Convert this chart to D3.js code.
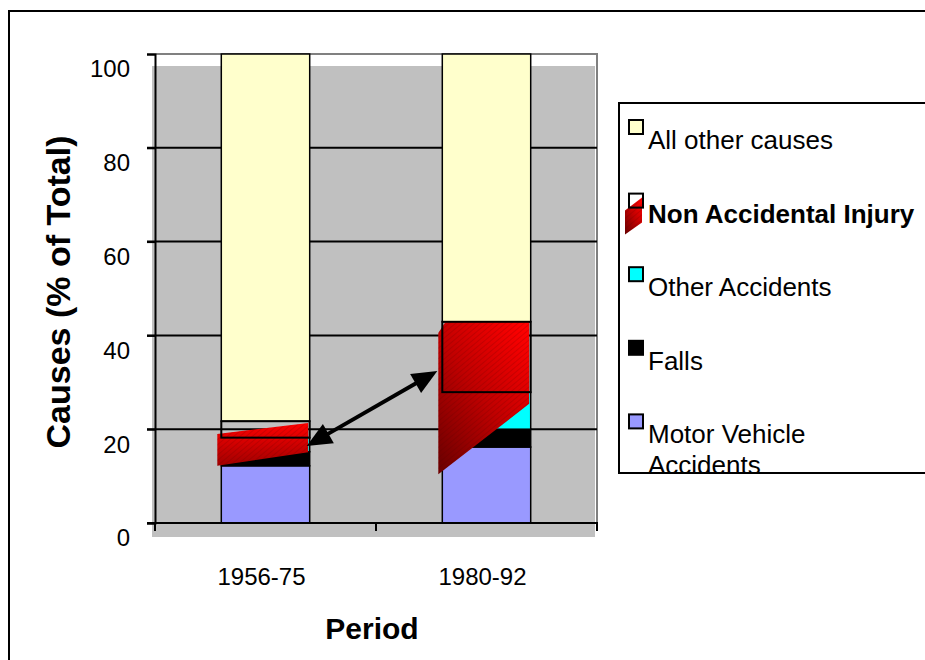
<!DOCTYPE html>
<html>
<head>
<meta charset="utf-8">
<script src="https://cdn.jsdelivr.net/npm/d3@7"></script>
<style>
  body { margin: 0; background: #fff; }
  text { font-family: Arial, "Liberation Sans", sans-serif; }
</style>
</head>
<body>
<script>
// values (% of total)
const categories = ['1956-75', '1980-92'];
const motorVehicle = [12.2, 16.2];
const falls = [3.0, 3.8];
const otherAccidents = [3.0, 7.9];
const nonAccidental = [3.5, 15.0];
const allOther = [78.3, 57.1];
const yTicks = [0, 20, 40, 60, 80, 100];

// skewed picture fill of the NAI segment, [bottom, top] values on left and right edges
const naiSkewLeft = [[12.2, 19.0], [10.4, 40.5]];
const naiSkewRight = [[15.1, 21.3], [25.4, 42.9]];
// where the top edge stops rising: [fraction of bar width, value]
const naiTopBreak = [[1, 21.3], [0.08, 42.9]];
// arrow between the two periods: [category index, value]
const arrowFrom = [0, 16.4];
const arrowTo = [1, 32.4];

const legendItems = [
  { name: 'All other causes', color: '#ffffcc' },
  { name: 'Non Accidental Injury', color: 'nai', bold: true },
  { name: 'Other Accidents', color: '#00ffff' },
  { name: 'Falls', color: '#000000' },
  { name: 'Motor Vehicle', name2: 'Accidents', color: '#9999ff' }
];

const keys = ['mv', 'falls', 'other', 'nai', 'rest'];
const colors = { mv: '#9999ff', falls: '#000000', other: '#00ffff', nai: 'none', rest: '#ffffcc' };
const rows = categories.map((c, i) => ({
  cat: c, mv: motorVehicle[i], falls: falls[i], other: otherAccidents[i],
  nai: nonAccidental[i], rest: allOther[i]
}));

const width = 925, height = 660;
const svg = d3.select('body').append('svg')
  .attr('width', width)
  .attr('height', height);

const defs = svg.append('defs');
const g1 = defs.append('linearGradient').attr('id', 'red0')
  .attr('x1', 0).attr('y1', 0).attr('x2', 0).attr('y2', 1);
g1.append('stop').attr('offset', 0).attr('stop-color', '#ff0000');
g1.append('stop').attr('offset', 1).attr('stop-color', '#a00000');
const g2 = defs.append('linearGradient').attr('id', 'red1')
  .attr('x1', 0.9).attr('y1', 0).attr('x2', 0.1).attr('y2', 1);
g2.append('stop').attr('offset', 0).attr('stop-color', '#ff0000');
g2.append('stop').attr('offset', 0.5).attr('stop-color', '#c00000');
g2.append('stop').attr('offset', 1).attr('stop-color', '#700000');
const hatch = defs.append('pattern').attr('id', 'hatch')
  .attr('width', 4).attr('height', 4)
  .attr('patternUnits', 'userSpaceOnUse')
  .attr('patternTransform', 'rotate(-40)');
hatch.append('line').attr('x1', 0).attr('y1', 0).attr('x2', 4).attr('y2', 0)
  .attr('stroke', '#500000').attr('stroke-width', 1).attr('opacity', 0.35);

// outer frame
svg.append('rect')
  .attr('x', 9).attr('y', 11)
  .attr('width', 1000).attr('height', 1000)
  .attr('fill', 'none').attr('stroke', '#000').attr('stroke-width', 2);

const x = d3.scaleBand()
  .domain(categories)
  .range([155, 597])
  .paddingInner(0.6)
  .paddingOuter(0.3);

const y = d3.scaleLinear()
  .domain([0, 100])
  .range([523, 54]);

// grey wall, drawn slightly offset
svg.append('rect')
  .attr('x', 152).attr('y', 66)
  .attr('width', 443).attr('height', 471)
  .attr('fill', '#c0c0c0');

svg.append('path')
  .attr('d', `M155,${y(100)}H597V${y(0)}`)
  .attr('fill', 'none').attr('stroke', '#808080').attr('stroke-width', 2);

// grid lines
svg.append('g')
  .selectAll('line')
  .data(yTicks.filter(d => d > 0 && d < 100))
  .enter()
  .append('line')
  .attr('x1', 147).attr('x2', 597)
  .attr('y1', d => y(d)).attr('y2', d => y(d))
  .attr('stroke', '#000').attr('stroke-width', 2);

// stacked bars
const stacked = d3.stack().keys(keys)(rows);
const bars = svg.append('g');
stacked.forEach(layer => {
  if (layer.key === 'nai') return;
  bars.selectAll(null)
    .data(layer)
    .enter()
    .append('rect')
    .attr('x', d => x(d.data.cat))
    .attr('y', d => y(d[1]))
    .attr('width', x.bandwidth())
    .attr('height', d => y(d[0]) - y(d[1]))
    .attr('fill', colors[layer.key])
    .attr('stroke', '#000')
    .attr('stroke-width', 1.5);
});

// skewed red picture fill
svg.append('g')
  .selectAll('path')
  .data(categories)
  .enter()
  .append('path')
  .attr('d', (c, i) => {
    const xl = x(c) - 4, xr = x(c) + x.bandwidth() - 1.5;
    const xb = xl + (xr - xl) * naiTopBreak[i][0];
    const pts = [
      [xl, y(naiSkewLeft[i][0])],
      [xl, y(naiSkewLeft[i][1])],
      [xb, y(naiTopBreak[i][1])],
      [xr, y(naiSkewRight[i][1])],
      [xr, y(naiSkewRight[i][0])]
    ];
    return d3.line()(pts) + 'Z';
  })
  .attr('fill', (c, i) => `url(#red${i})`)
  .clone()
  .attr('fill', 'url(#hatch)');

// NAI segment outline
const naiLayer = stacked.find(l => l.key === 'nai');
svg.append('g')
  .selectAll('rect')
  .data(naiLayer)
  .enter()
  .append('rect')
  .attr('x', d => x(d.data.cat))
  .attr('y', d => y(d[1]))
  .attr('width', x.bandwidth())
  .attr('height', d => y(d[0]) - y(d[1]))
  .attr('fill', 'none')
  .attr('stroke', '#000')
  .attr('stroke-width', 2);

// double-headed arrow
const ax1 = x(categories[arrowFrom[0]]) + x.bandwidth() - 3, ay1 = y(arrowFrom[1]);
const ax2 = x(categories[arrowTo[0]]) - 5, ay2 = y(arrowTo[1]);
const ang = Math.atan2(ay2 - ay1, ax2 - ax1);
const headLen = 25, headW = 11;
function head(tx, ty, a) {
  const bx = tx - headLen * Math.cos(a), by = ty - headLen * Math.sin(a);
  const px = -Math.sin(a) * headW, py = Math.cos(a) * headW;
  return [[tx, ty], [bx + px, by + py], [bx - px, by - py]];
}
svg.append('line')
  .attr('x1', ax1 + 20 * Math.cos(ang)).attr('y1', ay1 + 20 * Math.sin(ang))
  .attr('x2', ax2 - 20 * Math.cos(ang)).attr('y2', ay2 - 20 * Math.sin(ang))
  .attr('stroke', '#000').attr('stroke-width', 4);
svg.append('path').attr('d', d3.line()(head(ax2, ay2, ang)) + 'Z').attr('fill', '#000');
svg.append('path').attr('d', d3.line()(head(ax1, ay1, ang + Math.PI)) + 'Z').attr('fill', '#000');

// axes
const yAxis = d3.axisLeft(y).tickValues(yTicks).tickSize(8).tickFormat('');
svg.append('g')
  .attr('transform', 'translate(155,0)')
  .call(yAxis)
  .call(g => g.selectAll('line,path').attr('stroke', '#000').attr('stroke-width', 2));

svg.append('g')
  .selectAll('text')
  .data(yTicks)
  .enter()
  .append('text')
  .attr('x', 130)
  .attr('y', d => y(d) + 15)
  .attr('dy', '0.35em')
  .attr('text-anchor', 'end')
  .attr('font-size', 24)
  .text(d => d);

svg.append('line')
  .attr('x1', 147).attr('x2', 598)
  .attr('y1', y(0)).attr('y2', y(0))
  .attr('stroke', '#000').attr('stroke-width', 2);
svg.append('g')
  .selectAll('line')
  .data([155, 376, 597])
  .enter()
  .append('line')
  .attr('x1', d => d).attr('x2', d => d)
  .attr('y1', y(0)).attr('y2', y(0) + 8)
  .attr('stroke', '#000').attr('stroke-width', 2);

svg.append('g')
  .selectAll('text')
  .data(categories)
  .enter()
  .append('text')
  .attr('x', d => x(d) + x.bandwidth() / 2 - 4)
  .attr('y', 585)
  .attr('text-anchor', 'middle')
  .attr('font-size', 24)
  .text(d => d);

svg.append('text')
  .attr('x', 372).attr('y', 639)
  .attr('text-anchor', 'middle')
  .attr('font-size', 30)
  .attr('font-weight', 'bold')
  .text('Period');

svg.append('text')
  .attr('transform', 'translate(70,292) rotate(-90)')
  .attr('text-anchor', 'middle')
  .attr('font-size', 34)
  .attr('font-weight', 'bold')
  .text('Causes (% of Total)');

// legend
const legend = svg.append('g');
const items = legend.selectAll('g')
  .data(legendItems)
  .enter()
  .append('g')
  .attr('transform', (d, i) => `translate(629,${120 + i * 73.6})`);

items.filter(d => d.color === 'nai')
  .append('path')
  .attr('d', 'M-4,17L-4,41L13,29L13,4Z')
  .attr('fill', 'url(#red1)')
  .clone()
  .attr('fill', 'url(#hatch)');

items.append('rect')
  .attr('width', 14).attr('height', 14)
  .attr('fill', d => d.color === 'nai' ? 'none' : d.color)
  .attr('stroke', '#000')
  .attr('stroke-width', 2);

items.append('text')
  .attr('x', 19).attr('y', 29)
  .attr('font-size', 26)
  .attr('font-weight', d => d.bold ? 'bold' : 'normal')
  .text(d => d.name);

items.filter(d => d.name2)
  .append('text')
  .attr('x', 19).attr('y', 60)
  .attr('font-size', 26)
  .text(d => d.name2);

legend.append('rect')
  .attr('x', 619).attr('y', 103)
  .attr('width', 400).attr('height', 370)
  .attr('fill', 'none')
  .attr('stroke', '#000')
  .attr('stroke-width', 2);
</script>
</body>
</html>
